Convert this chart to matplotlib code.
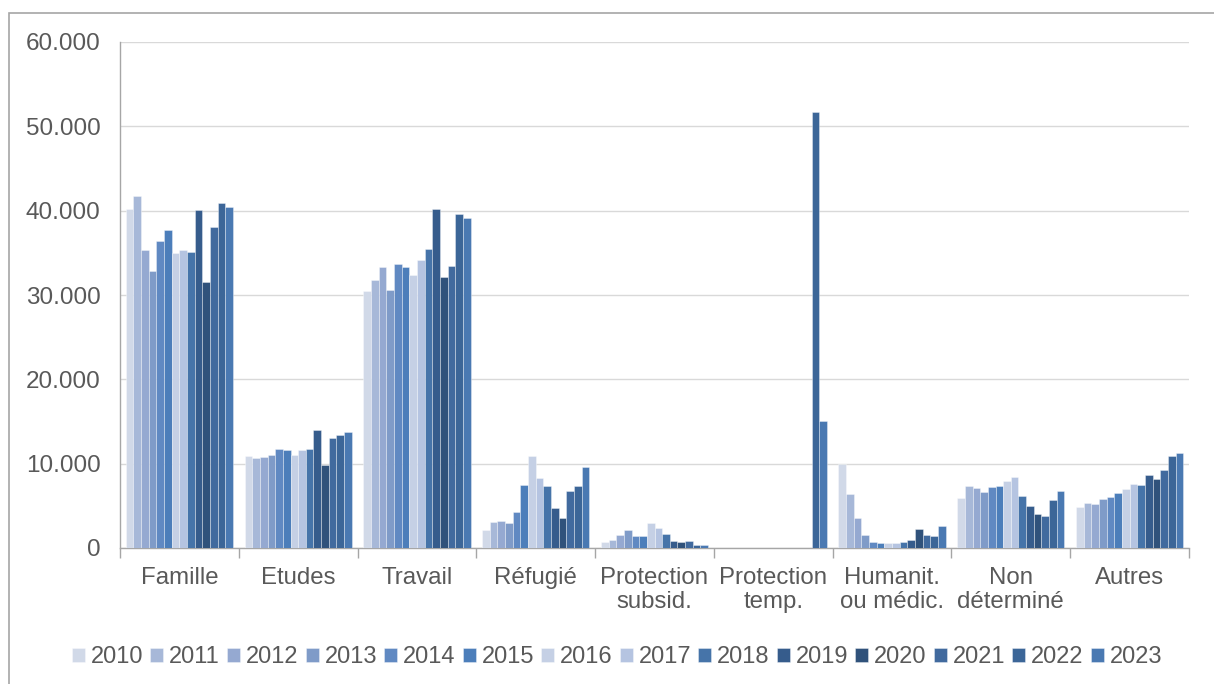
import numpy as np
import matplotlib
matplotlib.use("Agg")
import matplotlib.pyplot as plt
from matplotlib.patches import Rectangle
from matplotlib.ticker import FuncFormatter, MultipleLocator

plt.rcParams['font.family'] = ['Liberation Sans', 'DejaVu Sans']

years = ['2010', '2011', '2012', '2013', '2014', '2015', '2016',
         '2017', '2018', '2019', '2020', '2021', '2022', '2023']
categories = ['Famille', 'Etudes', 'Travail', 'Réfugié', 'Protection\nsubsid.',
              'Protection\ntemp.', 'Humanit.\nou médic.', 'Non\ndéterminé', 'Autres']

# values per category, one per year 2010..2023
famille = [40200, 41700, 35300, 32800, 36400, 37700, 35000, 35300, 35100, 40100, 31500, 38100, 40900, 40400]
etudes = [10900, 10700, 10800, 11000, 11700, 11650, 11000, 11650, 11750, 13950, 9850, 13100, 13450, 13800]
travail = [30500, 31800, 33350, 30650, 33700, 33300, 32400, 34100, 35450, 40200, 32100, 33450, 39600, 39100]
refugie = [2100, 3100, 3250, 2950, 4250, 7450, 10850, 8350, 7400, 4750, 3600, 6700, 7400, 9650]
prot_subsid = [750, 1000, 1550, 2150, 1450, 1450, 2950, 2400, 1700, 850, 700, 850, 350, 350]
prot_temp = [0, 0, 0, 0, 0, 0, 0, 0, 0, 0, 0, 0, 51750, 15050]
humanit = [9950, 6450, 3550, 1500, 700, 550, 550, 650, 750, 900, 2250, 1600, 1400, 2600]
non_determ = [5900, 7350, 7100, 6600, 7250, 7400, 7950, 8400, 6200, 5000, 4000, 3750, 5700, 6700]
autres = [4900, 5300, 5250, 5800, 6050, 6550, 7000, 7600, 7500, 8600, 8150, 9300, 10900, 11300]

colors = ['#D1D9E8', '#A7B8D8', '#95A9D1', '#7F9BC8', '#6089C2', '#4C7EBA', '#C5D0E5',
          '#B5C4E1', '#4674A9', '#365C8C', '#30527B', '#416A9E', '#3C6698', '#4A79B2']

data = np.array([famille, etudes, travail, refugie, prot_subsid, prot_temp,
                 humanit, non_determ, autres])

W, H = 1214, 684
fig = plt.figure(figsize=(W / 100, H / 100), dpi=100)
ax = fig.add_axes([120 / W, 1 - 548 / H, (1189 - 120) / W, (548 - 42) / H])

# outer chart frame (only left and top show)
fig.add_artist(Rectangle((9 / W, -0.05), 1.2, 1 - 13 / H + 0.05, transform=fig.transFigure,
                         fill=False, edgecolor='#A6A6A6', linewidth=1.2))

x = np.arange(len(categories))
n = len(years)
w = 1 / (n + 1.5)
for i, yr in enumerate(years):
    ax.bar(x + (i - (n - 1) / 2) * w, data[:, i], width=w, color=colors[i],
           edgecolor=(1, 1, 1, 0.5), linewidth=0.5, label=yr, zorder=3)

ax.set_xlim(-0.5, len(categories) - 0.5)
ax.set_ylim(0, 60000)
ax.yaxis.set_major_locator(MultipleLocator(10000))
ax.yaxis.set_major_formatter(FuncFormatter(lambda v, p: f'{int(v):,}'.replace(',', '.')))
ax.grid(axis='y', color='#D9D9D9', linewidth=1, zorder=0)

ax.set_xticks(np.arange(-0.5, len(categories), 1))
ax.set_xticklabels([])
ax.set_xticks(x, minor=True)
ax.set_xticklabels(categories, minor=True, linespacing=1.1)
ax.tick_params(axis='x', which='major', length=7, color='#A6A6A6', width=1)
ax.tick_params(axis='x', which='minor', length=0, pad=14, labelsize=17.3, labelcolor='#595959')
ax.tick_params(axis='y', length=0, pad=14, labelsize=17.5, labelcolor='#595959')

for s in ['top', 'right']:
    ax.spines[s].set_visible(False)
for s in ['left', 'bottom']:
    ax.spines[s].set_color('#A6A6A6')
    ax.spines[s].set_linewidth(1)

ax.legend(loc='center', bbox_to_anchor=(617 / W, 1 - 657 / H), bbox_transform=fig.transFigure,
          ncol=n, frameon=False, fontsize=17, labelcolor='#595959',
          handlelength=0.55, handleheight=0.55, handletextpad=0.25, columnspacing=0.3)

fig.savefig('out.png', dpi=100)
